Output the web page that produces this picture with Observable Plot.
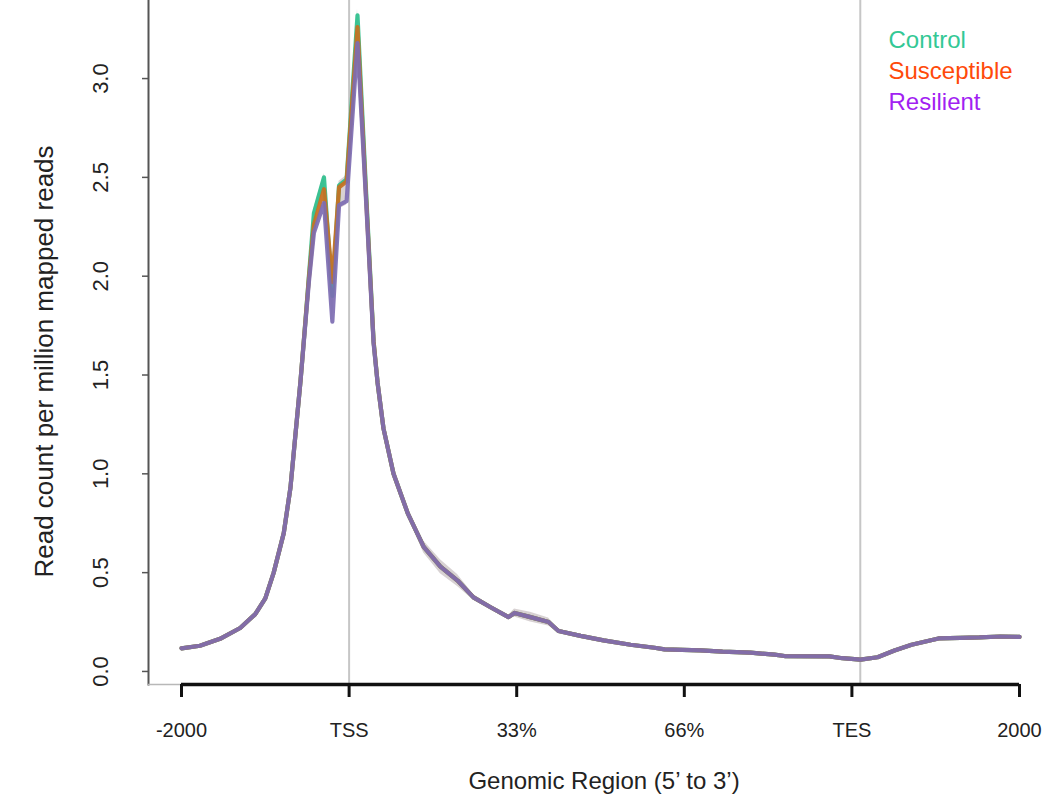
<!DOCTYPE html>
<html><head><meta charset="utf-8">
<script src="https://cdn.jsdelivr.net/npm/d3@7"></script>
<script src="https://cdn.jsdelivr.net/npm/@observablehq/plot@0.6"></script>
<style>body{margin:0;background:#fff;font-family:"Liberation Sans",Arial,sans-serif}</style>
</head><body><div id="chart"></div>
<script>
// position along the meta-gene: 0=-2000, 1=TSS, 2=33%, 3=66%, 4=TES, 5=2000
const xPos = [0,0.11,0.23,0.35,0.44,0.50,0.55,0.61,0.65,0.68,0.71,0.74,0.76,0.79,0.85,0.90,0.94,0.985,1.05,1.10,1.146,1.17,1.205,1.265,1.35,1.445,1.545,1.647,1.742,1.844,1.951,1.987,2.082,2.19,2.249,2.381,2.518,2.679,2.822,2.882,3.097,3.228,3.395,3.538,3.598,3.866,3.943,4.051,4.153,4.254,4.356,4.517,4.648,4.761,4.887,5.0];
const control     = [0.117,0.13,0.165,0.22,0.29,0.37,0.50,0.70,0.93,1.20,1.47,1.78,2.00,2.32,2.50,1.90,2.46,2.49,3.32,2.45,1.67,1.46,1.23,1.00,0.80,0.63,0.53,0.46,0.375,0.325,0.275,0.296,0.275,0.25,0.205,0.18,0.157,0.135,0.12,0.112,0.107,0.10,0.095,0.085,0.078,0.076,0.067,0.06,0.072,0.106,0.135,0.167,0.17,0.172,0.177,0.175];
const susceptible = [0.117,0.13,0.165,0.22,0.29,0.37,0.50,0.70,0.93,1.20,1.47,1.78,1.99,2.26,2.44,1.97,2.45,2.48,3.26,2.42,1.67,1.46,1.23,1.00,0.80,0.63,0.53,0.46,0.375,0.325,0.275,0.296,0.275,0.25,0.205,0.18,0.157,0.135,0.12,0.112,0.107,0.10,0.095,0.085,0.078,0.076,0.067,0.06,0.072,0.106,0.135,0.167,0.17,0.172,0.177,0.175];
const resilient   = [0.117,0.13,0.165,0.22,0.29,0.37,0.50,0.70,0.93,1.20,1.47,1.77,1.97,2.22,2.37,1.77,2.36,2.38,3.18,2.40,1.66,1.46,1.23,1.00,0.80,0.63,0.53,0.46,0.375,0.325,0.275,0.296,0.275,0.25,0.205,0.18,0.157,0.135,0.12,0.112,0.107,0.10,0.095,0.085,0.078,0.076,0.067,0.06,0.072,0.106,0.135,0.167,0.17,0.172,0.177,0.175];
const bandHalf    = [0.006,0.006,0.006,0.006,0.006,0.008,0.01,0.012,0.015,0.02,0.02,0.02,0.02,0.02,0.02,0.02,0.02,0.02,0.03,0.02,0.015,0.012,0.012,0.012,0.015,0.03,0.035,0.03,0.015,0.01,0.01,0.02,0.025,0.02,0.01,0.008,0.006,0.006,0.006,0.006,0.006,0.006,0.006,0.006,0.006,0.006,0.006,0.006,0.006,0.006,0.006,0.006,0.006,0.006,0.006,0.006];

const seriesNames  = ["Control","Susceptible","Resilient"];
const lineColors   = ["#2cbf8c","#c9701f","#7d6cb2"];
const legendColors = ["#33c895","#ff4a0a","#a21ff2"];
const xTicks = [0,1,2,3,4,5];
const xTickLabels = ["-2000","TSS","33%","66%","TES","2000"];
const yTicks = [0,0.5,1,1.5,2,2.5,3];
const refLines = [1, 4.05];
const xDomain = [-0.197, 5];
const yDomain = [-0.066, 3.395];

const seriesValues = [control, susceptible, resilient];
const bandRows = xPos.map((x, i) => ({
  x,
  lo: Math.min(control[i], susceptible[i], resilient[i]) - bandHalf[i],
  hi: Math.max(control[i], susceptible[i], resilient[i]) + bandHalf[i]
}));
const lineRows = seriesNames.map((s, k) => xPos.map((x, i) => ({series: s, x, y: seriesValues[k][i]})));

const chart = Plot.plot({
  width: 1050,
  height: 804,
  marginLeft: 148,
  marginRight: 31,
  marginTop: 0,
  marginBottom: 120,
  x: {domain: xDomain, axis: null},
  y: {domain: yDomain, axis: null},
  style: {fontFamily: '"Liberation Sans", Arial, sans-serif', background: "#fff", color: "#111"},
  marks: [
    Plot.ruleX(refLines, {stroke: "#c6c6c6", strokeWidth: 2}),
    Plot.frame({anchor: "left", stroke: "#555", strokeWidth: 2}),
    Plot.frame({anchor: "bottom", stroke: "#b8b8b8", strokeWidth: 1.5}),
    Plot.areaY(bandRows, {x: "x", y1: "lo", y2: "hi", fill: "#8e7d82", fillOpacity: 0.35}),
    ...lineRows.map((rows, k) => Plot.line(rows, {x: "x", y: "y", stroke: lineColors[k], strokeWidth: 4.2, strokeOpacity: 0.92})),
    Plot.axisY({ticks: yTicks, tickSize: 6, tickFormat: () => "", stroke: "#555", strokeWidth: 1.5, label: null}),
    Plot.text(yTicks, {y: d => d, frameAnchor: "left", textAnchor: "middle", lineAnchor: "middle", dx: -48, rotate: -90, text: d => d.toFixed(1), fontSize: 22, fill: "#222"}),
    Plot.ruleY([yDomain[0]], {x1: xTicks[0], x2: xTicks[xTicks.length - 1], stroke: "#111", strokeWidth: 3.5}),
    Plot.axisX({ticks: xTicks, tickFormat: d => xTickLabels[xTicks.indexOf(d)], tickSize: 13, tickPadding: 25, strokeWidth: 3, stroke: "#111", fontSize: 20, fill: "#222", label: null}),
    Plot.text(["Read count per million mapped reads"], {frameAnchor: "left", textAnchor: "middle", lineAnchor: "middle", dx: -104, dy: 19, rotate: -90, fontSize: 26, fill: "#222"}),
    Plot.text(["Genomic Region (5\u2019 to 3\u2019)"], {frameAnchor: "bottom", lineAnchor: "middle", dx: 20, dy: 97, fontSize: 24, fill: "#222"}),
    ...seriesNames.map((s, k) => Plot.text([s], {frameAnchor: "top-right", textAnchor: "start", lineAnchor: "middle", dx: -131, dy: 40 + 31 * k, fontSize: 24, fill: legendColors[k]}))
  ]
});
document.getElementById("chart").appendChild(chart);
</script>
</body></html>
